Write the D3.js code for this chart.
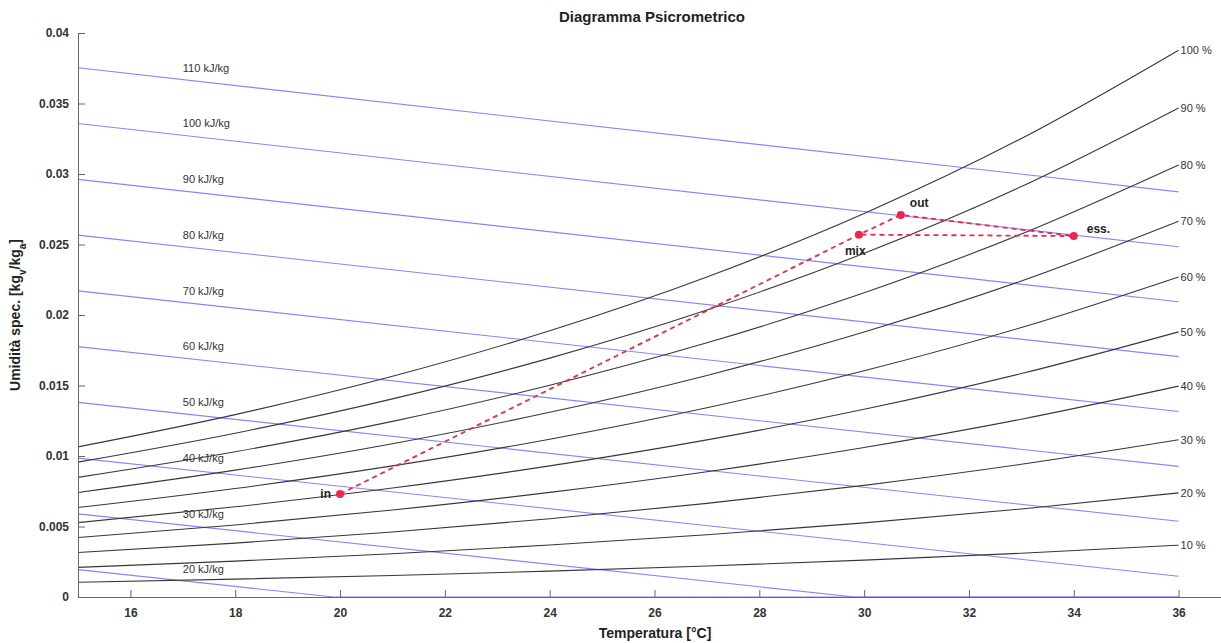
<!DOCTYPE html>
<html>
<head>
<meta charset="utf-8">
<script src="https://cdn.jsdelivr.net/npm/d3@7"></script>
<style>
  body { margin: 0; background: #fff; }
  svg { font-family: Arial, "Liberation Sans", sans-serif; }
</style>
</head>
<body>
<svg class="chart" width="1221" height="643"></svg>
<script>
// temperature grid for the relative humidity curves (°C)
const tempGrid = [15, 18, 21, 24, 27, 30, 33, 36];
const rhLevels = [10, 20, 30, 40, 50, 60, 70, 80, 90, 100];
// specific humidity [kg_v/kg_a] at tempGrid
const rhHumidity = [
  [0.001048, 0.001270, 0.001530, 0.001838, 0.002197, 0.002617, 0.003106, 0.003672],
  [0.002100, 0.002544, 0.003068, 0.003687, 0.004410, 0.005257, 0.006242, 0.007388],
  [0.003156, 0.003824, 0.004614, 0.005546, 0.006639, 0.007919, 0.009411, 0.011148],
  [0.004215, 0.005110, 0.006167, 0.007417, 0.008884, 0.010604, 0.012611, 0.014954],
  [0.005278, 0.006400, 0.007728, 0.009299, 0.011144, 0.013311, 0.015845, 0.018805],
  [0.006344, 0.007696, 0.009297, 0.011192, 0.013421, 0.016042, 0.019111, 0.022704],
  [0.007414, 0.008998, 0.010874, 0.013097, 0.015715, 0.018797, 0.022411, 0.026649],
  [0.008487, 0.010304, 0.012458, 0.015013, 0.018025, 0.021575, 0.025745, 0.030644],
  [0.009565, 0.011616, 0.014051, 0.016941, 0.020352, 0.024378, 0.029113, 0.034688],
  [0.010646, 0.012934, 0.015651, 0.018880, 0.022696, 0.027205, 0.032518, 0.038783]
];

// enthalpy lines: [t, x] points
const enthalpyLevels = [20, 30, 40, 50, 60, 70, 80, 90, 100, 110];
const enthalpyLines = [
  [[15, 0.001942], [19.88, 0], [36, 0]],
  [[15, 0.005896], [29.82, 0], [36, 0]],
  [[15, 0.009850], [36, 0.001474]],
  [[15, 0.013804], [36, 0.005368]],
  [[15, 0.017759], [36, 0.009262]],
  [[15, 0.021713], [36, 0.013156]],
  [[15, 0.025667], [36, 0.017050]],
  [[15, 0.029622], [36, 0.020944]],
  [[15, 0.033576], [36, 0.024838]],
  [[15, 0.037530], [36, 0.028732]]
];

// process points
const procNames = ['in', 'mix', 'out', 'ess.'];
const procT = [20, 29.9, 30.7, 34];
const procX = [0.0073, 0.0257, 0.0271, 0.0256];
const procPath = [0, 1, 2, 3, 1];

const xTicks = [16, 18, 20, 22, 24, 26, 28, 30, 32, 34, 36];
const yTicks = [0, 0.005, 0.01, 0.015, 0.02, 0.025, 0.03, 0.035, 0.04];

const startApp = () => {
  const svg = d3.select('.chart');
  const x = d3.scaleLinear().domain([15, 37]).range([78, 1231]);
  const y = d3.scaleLinear().domain([0, 0.04]).range([597, 33]);

  // enthalpy lines (blue)
  const straight = d3.line().x(d => x(d[0])).y(d => y(d[1]));
  svg.append('g')
    .selectAll('path')
    .data(enthalpyLines)
    .enter()
    .append('path')
    .attr('d', straight)
    .attr('fill', 'none')
    .attr('stroke', '#8585ff')
    .attr('stroke-width', 1.1);

  svg.append('g')
    .selectAll('text')
    .data(enthalpyLevels)
    .enter()
    .append('text')
    .attr('x', x(17))
    .attr('y', (d, i) => y(enthalpyLines[i][0][1]))
    .attr('dy', '0.35em')
    .attr('font-size', 11)
    .attr('fill', '#333')
    .text(d => d + ' kJ/kg');

  // relative humidity curves (black)
  const curve = d3.line()
    .x((d, i) => x(tempGrid[i]))
    .y(d => y(d))
    .curve(d3.curveMonotoneX);
  svg.append('g')
    .selectAll('path')
    .data(rhHumidity)
    .enter()
    .append('path')
    .attr('d', curve)
    .attr('fill', 'none')
    .attr('stroke', '#383838')
    .attr('stroke-width', 1.1);

  svg.append('g')
    .selectAll('text')
    .data(rhLevels)
    .enter()
    .append('text')
    .attr('x', x(36) + 2)
    .attr('y', (d, i) => y(rhHumidity[i][tempGrid.length - 1]))
    .attr('dy', '0.35em')
    .attr('font-size', 11)
    .attr('fill', '#333')
    .text(d => d + ' %');

  // axes
  const yAxis = svg.append('g')
    .attr('transform', `translate(${x(15)},0)`)
    .call(d3.axisLeft(y).tickValues(yTicks).tickSize(-7).tickSizeOuter(0).tickPadding(9)
      .tickFormat(d => (d === 0 ? '0' : String(+d.toFixed(3)))));
  const xAxis = svg.append('g')
    .attr('transform', `translate(0,${y(0)})`)
    .call(d3.axisBottom(x).tickValues(xTicks).tickSize(-7).tickSizeOuter(0).tickPadding(11));
  [xAxis, yAxis].forEach(a => {
    a.selectAll('path, line').attr('stroke', '#666');
    a.selectAll('text').attr('font-size', 12).attr('font-weight', 'bold').attr('fill', '#333')
      .attr('font-family', 'Arial, "Liberation Sans", sans-serif');
  });

  // process (red dashed)
  const procLine = d3.line().x(i => x(procT[i])).y(i => y(procX[i]));
  svg.append('path')
    .attr('d', procLine(procPath))
    .attr('fill', 'none')
    .attr('stroke', '#f0244f')
    .attr('stroke-width', 1.8)
    .attr('stroke-dasharray', '5,4');

  svg.append('g')
    .selectAll('circle')
    .data(procNames)
    .enter()
    .append('circle')
    .attr('cx', (d, i) => x(procT[i]))
    .attr('cy', (d, i) => y(procX[i]))
    .attr('r', 4)
    .attr('fill', '#f0244f');

  const labelOffset = [[-9, 0, 'end'], [-14, 16, 'start'], [9, -12, 'start'], [13, -7, 'start']];
  svg.append('g')
    .selectAll('text')
    .data(procNames)
    .enter()
    .append('text')
    .attr('x', (d, i) => x(procT[i]) + labelOffset[i][0])
    .attr('y', (d, i) => y(procX[i]) + labelOffset[i][1])
    .attr('dy', '0.35em')
    .attr('text-anchor', (d, i) => labelOffset[i][2])
    .attr('font-size', 12)
    .attr('font-weight', 'bold')
    .attr('fill', '#222')
    .text(d => d);

  // titles
  svg.append('text')
    .attr('x', 652)
    .attr('y', 22)
    .attr('text-anchor', 'middle')
    .attr('font-size', 15)
    .attr('font-weight', 'bold')
    .attr('fill', '#222')
    .text('Diagramma Psicrometrico');

  svg.append('text')
    .attr('x', 655)
    .attr('y', 638)
    .attr('text-anchor', 'middle')
    .attr('font-size', 14)
    .attr('font-weight', 'bold')
    .attr('fill', '#222')
    .text('Temperatura [°C]');

  const yl = svg.append('text')
    .attr('transform', 'translate(20,315) rotate(-90)')
    .attr('text-anchor', 'middle')
    .attr('font-size', 14)
    .attr('font-weight', 'bold')
    .attr('fill', '#222');
  yl.append('tspan').text('Umidità spec. [kg');
  yl.append('tspan').attr('baseline-shift', 'sub').attr('font-size', 10).text('v');
  yl.append('tspan').text('/kg');
  yl.append('tspan').attr('baseline-shift', 'sub').attr('font-size', 10).text('a');
  yl.append('tspan').text(']');
};

window.onload = startApp;
</script>
</body>
</html>
